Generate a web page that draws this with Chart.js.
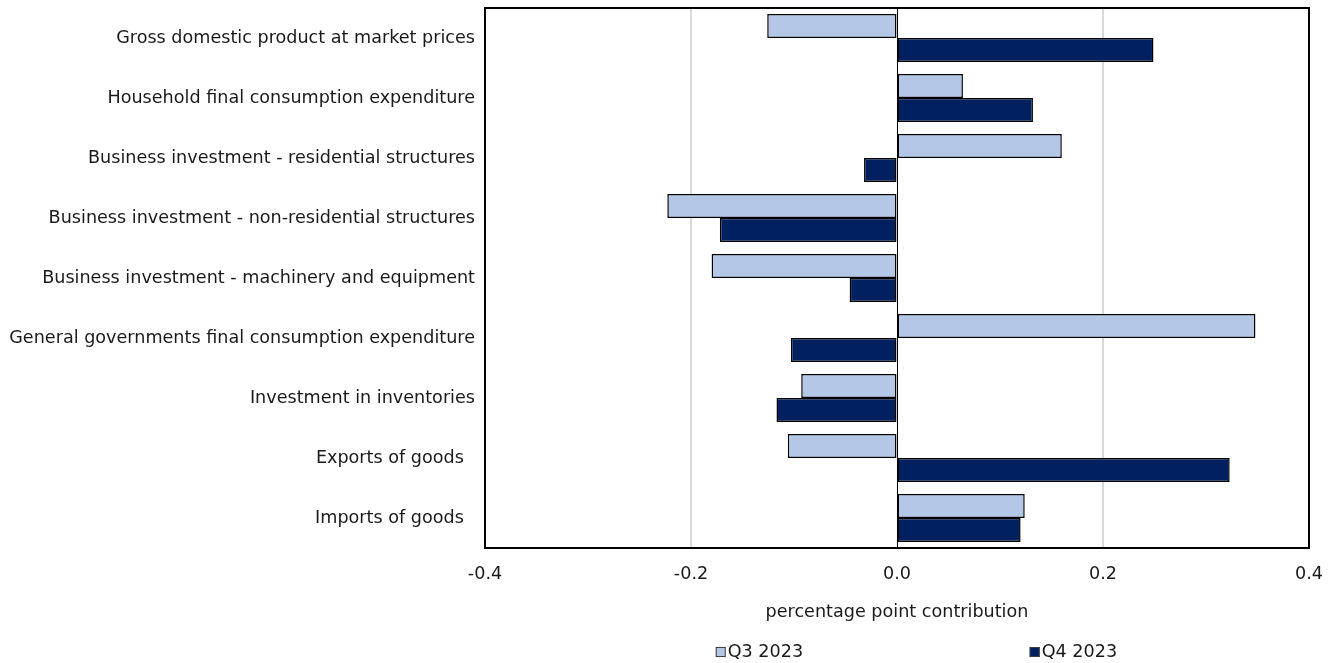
<!DOCTYPE html>
<html>
<head>
<meta charset="utf-8">
<script src="https://cdn.jsdelivr.net/npm/chart.js@4/dist/chart.umd.min.js"></script>
<style>
  html, body { margin: 0; padding: 0; background: #fff; }
  #wrap { width: 1336px; height: 663px; }
</style>
</head>
<body>
<div id="wrap"><canvas id="contrib"></canvas></div>
<script>
// categories, top to bottom
var categories = [
  "Gross domestic product at market prices",
  "Household final consumption expenditure",
  "Business investment - residential structures",
  "Business investment - non-residential structures",
  "Business investment - machinery and equipment",
  "General governments final consumption expenditure",
  "Investment in inventories",
  "Exports of goods  ",
  "Imports of goods  "
];

// percentage point contributions
var q3_2023 = [-0.126, 0.064, 0.160, -0.223, -0.180, 0.348, -0.093, -0.106, 0.124];
var q4_2023 = [0.249, 0.132, -0.032, -0.172, -0.046, -0.103, -0.117, 0.323, 0.120];

var seriesLabels = ["Q3 2023", "Q4 2023"];
var xTicks = [-0.4, -0.2, 0.0, 0.2, 0.4];

var fontFamily = "'DejaVu Sans', Verdana, sans-serif";
var fontSize = 17.6;
var textColor = '#1a1a1a';

// frame round the plot area + legend placed under the plot like the original
var framePlugin = {
  id: 'frame',
  afterDatasetsDraw: function(chart) {
    var a = chart.chartArea;
    var ctx = chart.ctx;
    ctx.save();
    ctx.strokeStyle = '#000';
    ctx.lineWidth = 2;
    ctx.strokeRect(a.left, a.top, a.right - a.left, a.bottom - a.top);
    ctx.restore();
  },
  afterDraw: function(chart) {
    var a = chart.chartArea;
    var ctx = chart.ctx;
    var spots = [0.28, 0.661];
    ctx.save();
    ctx.font = fontSize + 'px ' + fontFamily;
    ctx.textBaseline = 'middle';
    ctx.textAlign = 'left';
    chart.data.datasets.forEach(function(ds, i) {
      var x = a.left + spots[i] * (a.right - a.left);
      var y = 652;
      ctx.fillStyle = ds.backgroundColor;
      ctx.fillRect(x, y - 5, 10, 10);
      ctx.strokeStyle = '#404040';
      ctx.lineWidth = 1;
      ctx.strokeRect(x + 0.5, y - 4.5, 9, 9);
      ctx.fillStyle = textColor;
      ctx.fillText(ds.label, x + 12, y);
    });
    ctx.restore();
  }
};

var chart = new Chart('contrib', {
  type: 'bar',
  plugins: [framePlugin],
  data: {
    labels: categories,
    datasets: [
      {
        label: seriesLabels[0],
        data: q3_2023,
        backgroundColor: '#b4c7e7',
        borderColor: '#000',
        borderWidth: 1.5,
        borderSkipped: false
      },
      {
        label: seriesLabels[1],
        data: q4_2023,
        backgroundColor: '#002060',
        borderColor: '#000',
        borderWidth: 1.5,
        borderSkipped: false
      }
    ]
  },
  options: {
    indexAxis: 'y',
    responsive: true,
    maintainAspectRatio: false,
    animation: false,
    layout: {
      padding: { left: 0, right: 27, top: 8, bottom: 30 }
    },
    datasets: {
      bar: { categoryPercentage: 0.8, barPercentage: 1.0 }
    },
    plugins: {
      legend: { display: false },
      tooltip: { enabled: false }
    },
    scales: {
      x: {
        min: -0.4,
        max: 0.4,
        afterBuildTicks: function(scale) {
          scale.ticks = xTicks.map(function(v) { return { value: v }; });
        },
        afterFit: function(scale) {
          scale.height = 85;
          scale.paddingLeft = 0;
          scale.paddingRight = 0;
        },
        ticks: {
          padding: 16,
          color: textColor,
          font: { family: fontFamily, size: fontSize },
          callback: function(v) { return Number(v).toFixed(1); }
        },
        grid: {
          drawTicks: false,
          lineWidth: function(c) { return c.tick && c.tick.value === 0 ? 1 : 2; },
          color: function(c) { return c.tick && c.tick.value === 0 ? '#000' : '#d9d9d9'; }
        },
        border: { display: false },
        title: {
          display: true,
          text: 'percentage point contribution',
          color: textColor,
          font: { family: fontFamily, size: fontSize },
          padding: { top: 18, bottom: 10 }
        }
      },
      y: {
        afterFit: function(scale) {
          scale.width = 485;
          scale.paddingTop = 0;
          scale.paddingBottom = 0;
        },
        ticks: {
          padding: 10,
          color: textColor,
          font: { family: fontFamily, size: fontSize }
        },
        grid: { display: false, drawTicks: false },
        border: { display: false }
      }
    }
  }
});
</script>
</body>
</html>
